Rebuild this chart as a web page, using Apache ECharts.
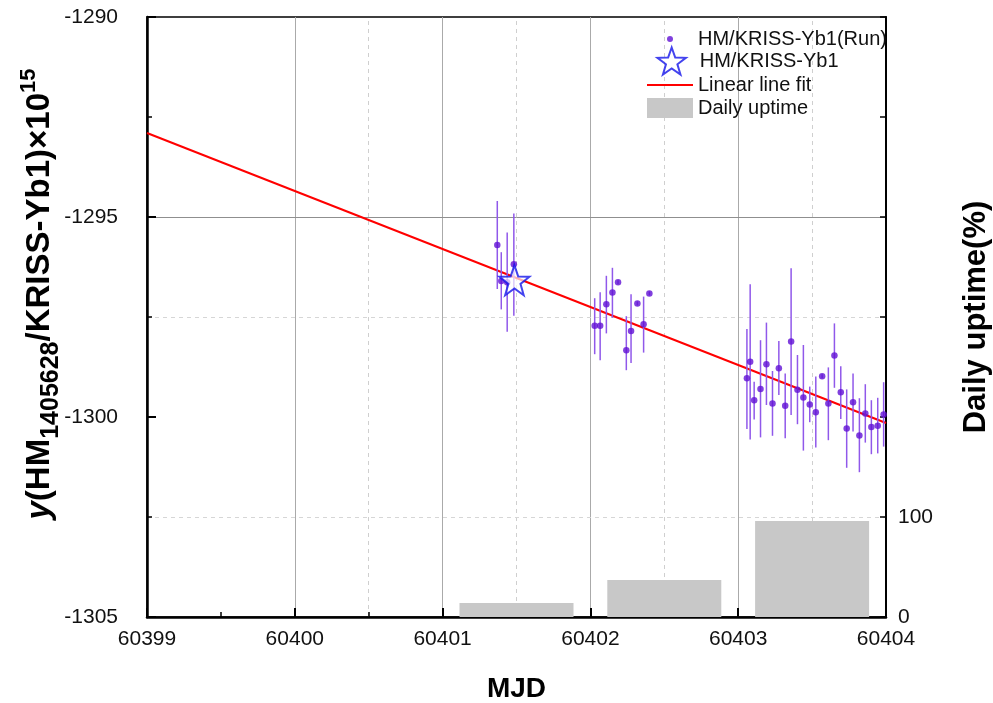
<!DOCTYPE html>
<html><head><meta charset="utf-8">
<script src="https://cdn.jsdelivr.net/npm/echarts@6/dist/echarts.min.js"></script>
<style>html,body{margin:0;padding:0;background:#fff;overflow:hidden}#c{width:993px;height:703px}</style>
</head><body><div id="c"></div>
<script>
// Run data: MJD, ratio value, lower and upper ends of error bar
const runMJD = [60401.370, 60401.397, 60401.437, 60401.482,
  60402.029, 60402.066, 60402.108, 60402.149, 60402.187, 60402.243, 60402.275, 60402.318, 60402.360, 60402.399,
  60403.059, 60403.081, 60403.108, 60403.151, 60403.191, 60403.232, 60403.275, 60403.318, 60403.358, 60403.401,
  60403.441, 60403.484, 60403.525, 60403.568, 60403.610, 60403.651, 60403.694, 60403.734, 60403.777, 60403.820,
  60403.860, 60403.901, 60403.944, 60403.984];
const runY = [-1295.70, -1296.60, -1296.63, -1296.18,
  -1297.72, -1297.72, -1297.18, -1296.89, -1296.63, -1298.33, -1297.85, -1297.16, -1297.68, -1296.91,
  -1299.03, -1298.62, -1299.58, -1299.30, -1298.68, -1299.66, -1298.78, -1299.72, -1298.11, -1299.32,
  -1299.51, -1299.69, -1299.88, -1298.98, -1299.66, -1298.46, -1299.38, -1300.29, -1299.63, -1300.46,
  -1299.91, -1300.25, -1300.22, -1299.94];
const runLow = [-1296.80, -1297.31, -1297.87, -1297.47,
  -1298.43, -1298.58, -1297.91, -1297.52, -1296.68, -1298.83, -1298.65, -1297.21, -1298.39, -1296.96,
  -1300.30, -1300.56, -1300.06, -1300.51, -1299.70, -1300.47, -1299.45, -1300.53, -1299.95, -1300.18,
  -1300.84, -1300.13, -1300.76, -1299.03, -1300.58, -1299.27, -1300.05, -1301.27, -1300.36, -1301.38,
  -1300.64, -1300.93, -1300.91, -1300.74];
const runHigh = [-1294.60, -1295.88, -1295.39, -1294.91,
  -1297.03, -1296.88, -1296.47, -1296.27, -1296.58, -1297.48, -1296.93, -1297.11, -1296.99, -1296.86,
  -1297.80, -1296.68, -1299.12, -1298.08, -1297.64, -1298.85, -1298.10, -1298.91, -1296.28, -1298.45,
  -1298.20, -1299.24, -1298.99, -1298.93, -1298.76, -1297.66, -1298.73, -1299.31, -1298.91, -1299.53,
  -1299.18, -1299.58, -1299.52, -1299.13];
// Mean value (star)
const meanMJD = [60401.486];
const meanY = [-1296.58];
// Linear fit end points
const fitMJD = [60399, 60404];
const fitY = [-1292.9, -1300.15];
// Daily uptime bars
const uptimeDays = [60401.5, 60402.5, 60403.5];
const uptimeValues = [14, 37, 96];
// Tick settings
const xTicks = {min: 60399, max: 60404, interval: 1};
const yTicks = {min: -1305, max: -1290, interval: 5};
const uptimeTicks = {min: 0, max: 600, interval: 100};
// Grid line positions
const xDashedGrid = [60400.5, 60401.5, 60402.5, 60403.5];
const ySolidGrid = [-1295];
const yDashedGrid = [-1297.5, -1302.5];

const FONT = 'Liberation Sans, Arial, sans-serif';
const STAR = 'path://M12,0 L14.85,8.1 L23.4,8.3 L16.6,13.5 L19.05,21.7 L12,16.85 L4.95,21.7 L7.4,13.5 L0.6,8.3 L9.15,8.1 Z';
const LINE_ICON = 'path://M0,0 L46,0 L46,2 L0,2 Z';

const chart = echarts.init(document.getElementById('c'), null, {renderer: 'canvas'});

const errData = runMJD.map((x, i) => [x, runLow[i], runHigh[i]]);
const runData = runMJD.map((x, i) => [x, runY[i]]);
const meanData = meanMJD.map((x, i) => [x, meanY[i]]);
const fitData = fitMJD.map((x, i) => [x, fitY[i]]);
const barData = uptimeDays.map((x, i) => [x, uptimeValues[i]]);

const gridLines = []
  .concat(xDashedGrid.map(v => ({xAxis: v, lineStyle: {color: '#cfcfcf', width: 1, type: [4, 4]}})))
  .concat(ySolidGrid.map(v => ({yAxis: v, lineStyle: {color: '#8f8f8f', width: 1, type: 'solid'}})))
  .concat(yDashedGrid.map(v => ({yAxis: v, lineStyle: {color: '#d6d6d6', width: 1, type: [4, 4]}})));

const legendText = {fontSize: 20, color: '#111', fontFamily: FONT};
// iconW: drawn width of icon, box of 46 px centred at x=670
const mkLegend = (name, icon, cy, h, iconW, textH) => ({
  data: [{name, icon}], left: 647 + (46 - iconW) / 2, top: cy - Math.max(h, textH) / 2,
  itemWidth: 46, itemHeight: h, selectedMode: false, textStyle: legendText, padding: 0
});

chart.setOption({
  animation: false,
  backgroundColor: '#fff',
  textStyle: {fontFamily: FONT},
  grid: {left: 147, right: 107, top: 17, bottom: 86, containLabel: false, outerBoundsMode: 'none',
    show: true, borderColor: '#000', borderWidth: 1.5, backgroundColor: 'transparent'},
  legend: [
    mkLegend('HM/KRISS-Yb1(Run)', 'circle', 37, 6, 6, 16),
    mkLegend('HM/KRISS-Yb1', STAR, 60, 27, 27, 16),
    mkLegend('Linear line fit', LINE_ICON, 83, 2, 46, 16),
    mkLegend('Daily uptime', 'rect', 108, 20, 46, 16)
  ],
  xAxis: [{
    type: 'value', min: xTicks.min, max: xTicks.max, interval: xTicks.interval,
    axisLine: {show: true, onZero: false, lineStyle: {color: '#000', width: 2.5}},
    axisTick: {show: true, inside: true, length: 9, lineStyle: {color: '#000', width: 2}},
    minorTick: {show: true, splitNumber: 2, length: 5, lineStyle: {color: '#000', width: 1.5}},
    axisLabel: {fontSize: 21, color: '#111', margin: 12, formatter: v => String(v)},
    splitLine: {show: true, lineStyle: {color: '#aaa', width: 1}},
    name: 'MJD', nameLocation: 'middle', nameGap: 58,
    nameTextStyle: {fontSize: 28, fontWeight: 'bold', color: '#000'}
  }],
  yAxis: [{
    type: 'value', position: 'left', min: yTicks.min, max: yTicks.max, interval: yTicks.interval,
    axisLine: {show: true, onZero: false, lineStyle: {color: '#000', width: 2.5}},
    axisTick: {show: true, inside: true, length: 9, lineStyle: {color: '#000', width: 2}},
    minorTick: {show: true, splitNumber: 2, length: 5, lineStyle: {color: '#000', width: 1.5}},
    axisLabel: {fontSize: 21, color: '#111', margin: 29, formatter: v => String(v)},
    splitLine: {show: false},
    name: '{i|y}{b|(HM}{s|1405628}{b|/KRISS-Yb1)×10}{p|15}',
    nameLocation: 'middle', nameRotate: 90, nameGap: 83, nameMoveOverlap: false,
    nameTextStyle: {
      color: '#000',
      rich: {
        i: {fontSize: 33, fontWeight: 'bold', fontStyle: 'italic', lineHeight: 48, verticalAlign: 'middle', padding: [0, 0, 0, 46], color: '#000', fontFamily: FONT},
        b: {fontSize: 33, fontWeight: 'bold', lineHeight: 48, verticalAlign: 'middle', color: '#000', fontFamily: FONT},
        s: {fontSize: 25, fontWeight: 'bold', lineHeight: 25, verticalAlign: 'bottom', color: '#000', fontFamily: FONT},
        p: {fontSize: 22, fontWeight: 'bold', lineHeight: 22, verticalAlign: 'top', padding: [2, 0, 0, 0], color: '#000', fontFamily: FONT}
      }
    }
  }, {
    type: 'value', position: 'right', min: uptimeTicks.min, max: uptimeTicks.max, interval: uptimeTicks.interval,
    axisLine: {show: true, onZero: false, lineStyle: {color: '#000', width: 2}},
    axisTick: {show: true, inside: true, length: 6, lineStyle: {color: '#000', width: 1.5}},
    axisLabel: {fontSize: 21, color: '#111', margin: 12, formatter: v => (v <= 100 ? String(v) : '')},
    splitLine: {show: false},
    name: 'Daily uptime(%)', nameLocation: 'middle', nameRotate: 90, nameGap: 75,
    nameTextStyle: {fontSize: 31, fontWeight: 'bold', color: '#000'}
  }],
  series: [
    {
      name: 'Daily uptime', type: 'bar', xAxisIndex: 0, yAxisIndex: 1, data: barData,
      barWidth: 114, itemStyle: {color: '#c8c8c8'}, z: 1
    },
    {
      name: 'Linear line fit', type: 'line', data: fitData, showSymbol: false, symbol: 'none',
      lineStyle: {color: '#ff0000', width: 2}, itemStyle: {color: '#ff0000'}, z: 3,
      markLine: {silent: true, symbol: 'none', label: {show: false}, animation: false, z: 0, data: gridLines}
    },
    {
      name: 'errbars', type: 'custom', data: errData, encode: {x: 0, y: [1, 2]}, z: 4,
      renderItem: (params, api) => {
        const x = api.value(0);
        const p1 = api.coord([x, api.value(1)]);
        const p2 = api.coord([x, api.value(2)]);
        return {type: 'line', shape: {x1: p1[0], y1: p1[1], x2: p2[0], y2: p2[1]},
          style: {stroke: '#9058ea', lineWidth: 1.5}};
      }
    },
    {
      name: 'HM/KRISS-Yb1(Run)', type: 'scatter', data: runData, symbol: 'circle', symbolSize: 6.5,
      itemStyle: {color: '#6010d4'}, z: 5
    },
    {
      name: 'HM/KRISS-Yb1', type: 'scatter', data: meanData, symbol: STAR, symbolSize: 30,
      itemStyle: {color: 'rgba(255,255,255,0.85)', borderColor: '#1414ea', borderWidth: 2}, z: 6
    }
  ]
});
</script></body></html>
